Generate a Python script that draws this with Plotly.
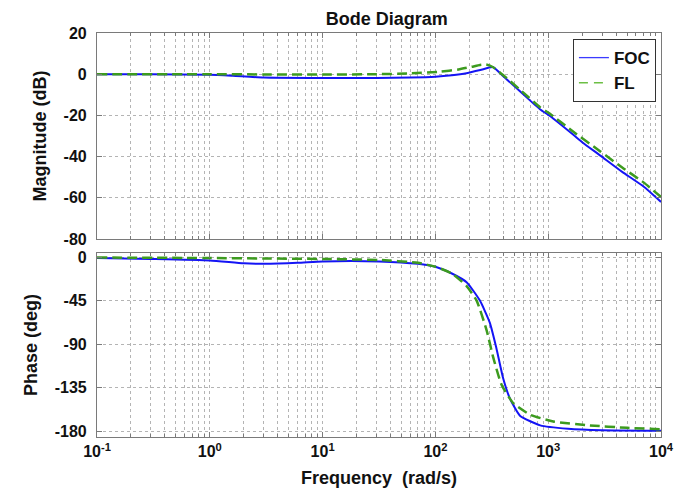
import plotly.graph_objects as go

# frequency points (rad/s), one set per curve
foc_mag_w = [0.1, 0.3, 1, 1.6, 3, 10, 30, 60, 100, 140, 189, 250, 322, 400, 562, 845, 1037, 1660, 2000, 2900, 4530, 7000, 10000]
foc_mag = [0, 0, -0.3, -0.8, -1.6, -1.8, -1.8, -1.6, -1.2, -0.5, 0.5, 2.0, 3.5, -1.0, -8.3, -17.0, -20.3, -29.3, -33.0, -39.5, -47.4, -54.5, -62]

fl_mag_w = [0.1, 1, 3, 10, 30, 60, 110, 160, 210, 248, 282, 322, 400, 562, 845, 1037, 1660, 2900, 4530, 7000, 10000]
fl_mag = [0, 0, -0.1, -0.2, 0, 0.4, 1.2, 2.3, 3.6, 4.5, 4.7, 3.5, -0.5, -7.5, -16.0, -19.2, -27.8, -37.5, -45.3, -52.5, -59.6]

foc_ph_w = [0.1, 0.3, 1, 2, 3, 6, 10, 31.6, 70, 100, 140, 189, 248, 304, 347, 398, 457, 562, 850, 1500, 3000, 10000]
foc_ph = [-1, -2, -3.5, -6.5, -7, -6, -4.5, -4.5, -7, -10, -17, -26, -45, -68, -94, -125, -146, -164, -174, -177.5, -179, -179.5]

fl_ph_w = [0.1, 1, 3, 10, 31.6, 70, 100, 140, 189, 232, 285, 326, 386, 490, 692, 1110, 2340, 5000, 10000]
fl_ph = [-0.5, -1, -1.5, -2, -3, -6, -10, -17, -30, -45, -76, -104, -132, -151, -163, -170, -174, -176.5, -178]

blue = "#1414f5"
green = "#3d9b1f"
grid = "#b4b4b4"
frame = "#7a7a7a"
font = "Liberation Sans, Arial, sans-serif"
tick_font = dict(size=16, color="#111", weight="bold")
label_font = dict(size=18, color="#111", weight="bold")

fig = go.Figure()
fig.add_trace(go.Scatter(x=foc_mag_w, y=foc_mag, mode="lines", showlegend=False,
                         line=dict(color=blue, width=2, shape="spline", smoothing=0.5),
                         xaxis="x", yaxis="y"))
fig.add_trace(go.Scatter(x=fl_mag_w, y=fl_mag, mode="lines", showlegend=False,
                         line=dict(color=green, width=2.5, dash="10px,5px", shape="spline", smoothing=0.5),
                         xaxis="x", yaxis="y"))
fig.add_trace(go.Scatter(x=foc_ph_w, y=foc_ph, mode="lines", showlegend=False,
                         line=dict(color=blue, width=2, shape="spline", smoothing=0.5),
                         xaxis="x2", yaxis="y2"))
fig.add_trace(go.Scatter(x=fl_ph_w, y=fl_ph, mode="lines", showlegend=False,
                         line=dict(color=green, width=2.5, dash="10px,5px", shape="spline", smoothing=0.5),
                         xaxis="x2", yaxis="y2"))
# legend entries (thinner sample lines like the original legend)
fig.add_trace(go.Scatter(x=[None], y=[None], mode="lines", name="FOC",
                         line=dict(color="#3b3bff", width=1.3), xaxis="x", yaxis="y"))
fig.add_trace(go.Scatter(x=[None], y=[None], mode="lines", name="FL",
                         line=dict(color="#6cbf45", width=1.6, dash="9px,6px"), xaxis="x", yaxis="y"))

decades = [0.1, 1, 10, 100, 1000, 10000]
dec_text = ["10<sup>-1</sup>", "10<sup>0</sup>", "10<sup>1</sup>", "10<sup>2</sup>", "10<sup>3</sup>", "10<sup>4</sup>"]
mag_ticks = [20, 0, -20, -40, -60, -80]
ph_ticks = [0, -45, -90, -135, -180]

xcommon = dict(type="log", range=[-1, 4], showline=True, mirror="ticks", linecolor=frame, linewidth=1.2,
               ticks="inside", ticklen=5, tickcolor=frame, showgrid=True, gridcolor=grid, griddash="dot",
               tickvals=decades, zeroline=False, automargin=False,
               minor=dict(dtick="D1", showgrid=True, gridcolor=grid, griddash="dot",
                          ticks="inside", ticklen=3, tickcolor=frame))
ycommon = dict(showline=True, mirror="ticks", linecolor=frame, linewidth=1.2, ticks="inside", ticklen=5,
               tickcolor=frame, showgrid=True, gridcolor=grid, griddash="dot", zeroline=False,
               automargin=False, ticklabelstandoff=6, tickfont=tick_font)

fig.update_layout(
    width=686, height=503,
    margin=dict(l=89, r=33, t=25, b=74),
    paper_bgcolor="white", plot_bgcolor="white",
    font=dict(family=font, color="#111", size=16),
    title=dict(text="Bode Diagram", x=0.552, xanchor="center", y=0.992, yanchor="top",
               font=label_font),
    xaxis=dict(xcommon, domain=[0, 1], anchor="y", showticklabels=False),
    xaxis2=dict(xcommon, domain=[0, 1], anchor="y2", ticktext=dec_text, tickfont=tick_font,
                title=dict(text="Frequency  (rad/s)", font=label_font, standoff=12)),
    yaxis=dict(ycommon, domain=[0.49, 1], range=[-80, 20], tickvals=mag_ticks,
               ticktext=[str(v) for v in mag_ticks],
               title=dict(text="Magnitude (dB)", font=label_font, standoff=12)),
    yaxis2=dict(ycommon, domain=[0, 0.455], range=[-186, 4], tickvals=ph_ticks,
                ticktext=[str(v) for v in ph_ticks],
                title=dict(text="Phase (deg)", font=label_font, standoff=12)),
    legend=dict(x=0.991, xanchor="right", y=0.985, yanchor="top", bgcolor="white",
                bordercolor="#333", borderwidth=1, font=dict(size=17, color="#111", weight="bold"),
                tracegroupgap=0, itemwidth=30),
    showlegend=True,
)

fig.write_html("out.html")
